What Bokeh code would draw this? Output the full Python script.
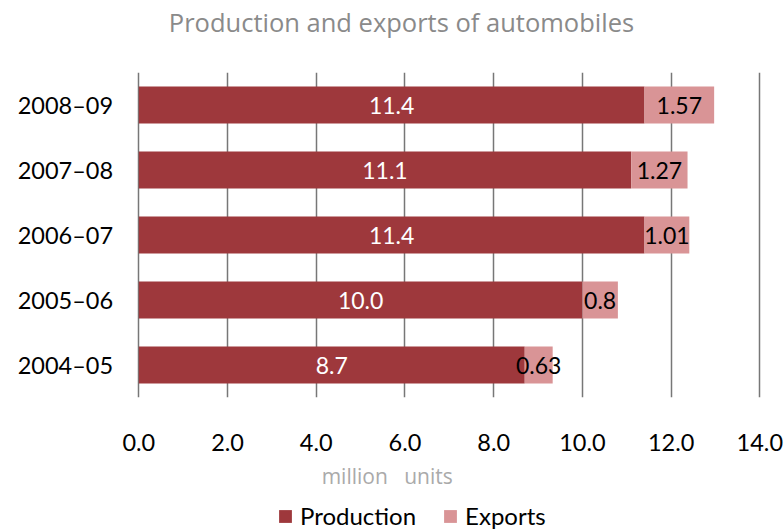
from bokeh.plotting import figure
from bokeh.layouts import column
from bokeh.models import (ColumnDataSource, FactorRange, Range1d, Label, LabelSet, Legend,
                          LegendItem, FixedTicker, NumeralTickFormatter)
from bokeh.embed import file_html
from bokeh.resources import INLINE
from bokeh.core.properties import value

years = ["2004–05", "2005–06", "2006–07", "2007–08", "2008–09"]
production = [8.7, 10.0, 11.4, 11.1, 11.4]
exports = [0.63, 0.8, 1.01, 1.27, 1.57]
x_ticks = [0, 2, 4, 6, 8, 10, 12, 14]
series = ["production", "exports"]
series_names = ["Production", "Exports"]

FONT = "Lato"
GRAY_FONT = "Open Sans"
PROD_COLOR = "#9E383C"
EXP_COLOR = "#D99496"
W = 784

src = ColumnDataSource(dict(
    year=years,
    production=production,
    exports=exports,
    prod_mid=[p / 2 for p in production],
    exp_mid=[p + e / 2 for p, e in zip(production, exports)],
    prod_lbl=[f"{p:.1f}" for p in production],
    exp_lbl=[str(e) for e in exports],
))

x_range = Range1d(-3.118, 14.556)


def strip(height, **kw):
    f = figure(width=W, height=height, x_axis_type=None, y_axis_type=None,
               output_backend="svg", toolbar_location=None, min_border=0, title=None, **kw)
    f.outline_line_color = None
    f.xgrid.visible = False
    f.ygrid.visible = False
    return f


# ---- title strip ----
t = strip(72, x_range=Range1d(0, W), y_range=Range1d(0, 72))
t.add_layout(Label(x=401, y=51, text="Production and exports of automobiles",
                   text_align="center", text_baseline="alphabetic", text_color="#8a8a8a",
                   text_font=GRAY_FONT, text_font_size="25.5px"))

# ---- main chart ----
p = figure(width=W, height=385, y_range=FactorRange(*years, range_padding=0),
           x_range=x_range, output_backend="svg", toolbar_location=None,
           min_border_left=0, min_border_right=0, min_border_top=0, min_border_bottom=60,
           title=None)
p.outline_line_color = None

p.hbar_stack(series, y="year", height=0.57, source=src,
             color=[PROD_COLOR, EXP_COLOR], line_color=None)

p.add_layout(LabelSet(x="prod_mid", y="year", text="prod_lbl", source=src,
                      text_align="center", text_baseline="middle",
                      text_color="white", text_font=value(FONT), text_font_size="23px"))
p.add_layout(LabelSet(x="exp_mid", y="year", text="exp_lbl", source=src,
                      text_align="center", text_baseline="middle",
                      text_color="black", text_font=value(FONT), text_font_size="23px"))
# category labels (left of the zero line)
p.add_layout(LabelSet(x=-0.58, y="year", text="year", source=src,
                      text_align="right", text_baseline="middle",
                      text_color="black", text_font=value(FONT), text_font_size="23.5px"))

p.xgrid.grid_line_color = "#777777"
p.xgrid.grid_line_width = 1.5
p.ygrid.grid_line_color = None
p.yaxis.visible = False
p.xaxis.ticker = FixedTicker(ticks=x_ticks)
p.xaxis.formatter = NumeralTickFormatter(format="0.0")
p.xaxis.axis_line_color = None
p.xaxis.major_tick_line_color = None
p.xaxis.minor_tick_line_color = None
p.xaxis.major_label_text_font = FONT
p.xaxis.major_label_text_font_size = "23.5px"
p.xaxis.major_label_text_color = "black"
p.xaxis.major_label_standoff = 30

# ---- bottom strip: axis title + legend ----
# same series, kept invisible: they only feed the legend swatches
b = strip(74, x_range=x_range, y_range=FactorRange(*years, range_padding=0))
leg_r = b.hbar_stack(series, y="year", height=0.57, source=src,
                     color=[PROD_COLOR, EXP_COLOR], line_color=None)
for r in leg_r:
    r.visible = False

# y = 3.72 in category units puts the text 55 px above the strip bottom
b.add_layout(Label(x=5.6, y=3.72, text="million\u00a0\u00a0 units", text_align="center",
                   text_baseline="middle", text_color="#aaaaaa", text_font=GRAY_FONT,
                   text_font_size="21px"))
legend = Legend(items=[LegendItem(label=n, renderers=[r]) for n, r in zip(series_names, leg_r)],
                location=(277, 1), orientation="horizontal",
                label_text_font=FONT, label_text_font_size="24px", label_text_color="black",
                glyph_width=16, glyph_height=16, label_standoff=7, spacing=26,
                padding=0, margin=0, border_line_color=None, background_fill_alpha=0,
                inactive_fill_alpha=0)
b.add_layout(legend, "center")

layout = column(t, p, b, spacing=0)
open("out.html", "w").write(file_html(layout, INLINE))
